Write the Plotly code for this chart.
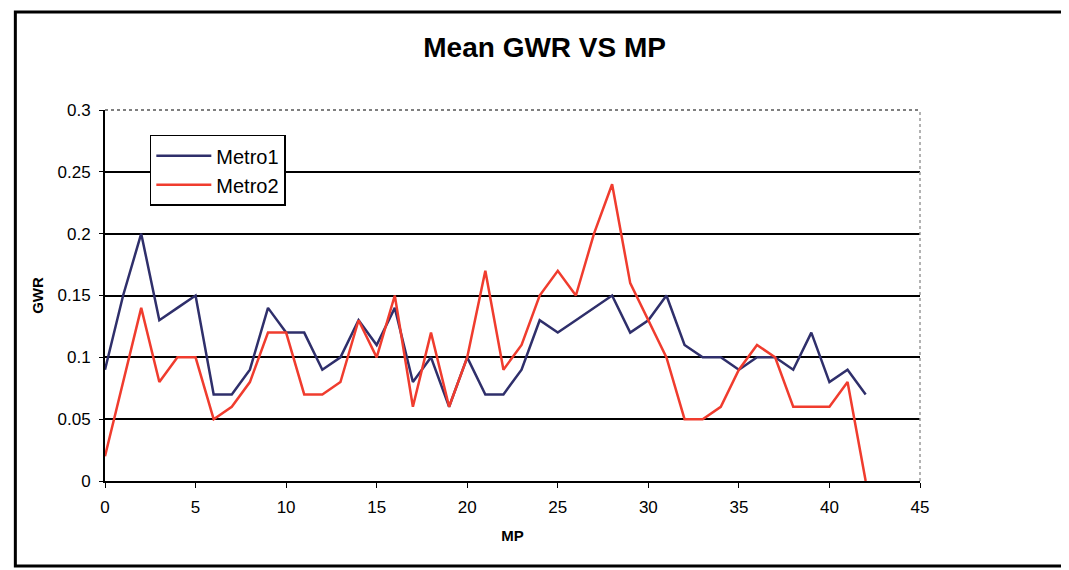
import plotly.graph_objects as go

mp = list(range(43))
metro1 = [0.09, 0.15, 0.20, 0.13, 0.14, 0.15, 0.07, 0.07, 0.09, 0.14,
          0.12, 0.12, 0.09, 0.10, 0.13, 0.11, 0.14, 0.08, 0.10, 0.06,
          0.10, 0.07, 0.07, 0.09, 0.13, 0.12, 0.13, 0.14, 0.15, 0.12,
          0.13, 0.15, 0.11, 0.10, 0.10, 0.09, 0.10, 0.10, 0.09, 0.12,
          0.08, 0.09, 0.07]
metro2 = [0.02, 0.08, 0.14, 0.08, 0.10, 0.10, 0.05, 0.06, 0.08, 0.12,
          0.12, 0.07, 0.07, 0.08, 0.13, 0.10, 0.15, 0.06, 0.12, 0.06,
          0.10, 0.17, 0.09, 0.11, 0.15, 0.17, 0.15, 0.20, 0.24, 0.16,
          0.13, 0.10, 0.05, 0.05, 0.06, 0.09, 0.11, 0.10, 0.06, 0.06,
          0.06, 0.08, 0.00]
x_ticks = [0, 5, 10, 15, 20, 25, 30, 35, 40, 45]
y_ticks = [0, 0.05, 0.1, 0.15, 0.2, 0.25, 0.3]
y_labels = ["0", "0.05", "0.1", "0.15", "0.2", "0.25", "0.3"]

fig = go.Figure()
fig.add_trace(go.Scatter(x=mp, y=metro1, mode="lines", name="Metro1",
                         line=dict(color="#2f2f6b", width=2.5)))
fig.add_trace(go.Scatter(x=mp, y=metro2, mode="lines", name="Metro2",
                         line=dict(color="#f03c2e", width=2.5)))

font = "Liberation Sans, Arial, sans-serif"
fig.update_layout(
    width=1069, height=570,
    margin=dict(l=97, r=157, t=102, b=97),
    paper_bgcolor="white", plot_bgcolor="white",
    font=dict(family=font, color="black", size=17),
    title=dict(text="<b>Mean GWR VS MP</b>", x=0.502, xanchor="center",
               y=0.932, yanchor="middle", font=dict(size=28, family=font)),
    showlegend=True,
    legend=dict(x=0.055, y=0.933, xanchor="left", yanchor="top",
                bgcolor="white", bordercolor="black", borderwidth=1.5,
                font=dict(size=20), itemwidth=55, tracegroupgap=0),
    xaxis=dict(range=[0, 45], tickvals=x_ticks, ticktext=[str(v) for v in x_ticks],
               showgrid=False, zeroline=False, showline=True, linecolor="black",
               linewidth=2, ticks="outside", ticklen=5, tickcolor="black",
               tickfont=dict(size=17), ticklabelstandoff=5,
               title=dict(text="<b>MP</b>", font=dict(size=15), standoff=14)),
    yaxis=dict(range=[0, 0.3], tickvals=y_ticks, ticktext=y_labels,
               showgrid=True, gridcolor="black", gridwidth=1.5, zeroline=False,
               showline=True, linecolor="black", linewidth=2, ticks="outside",
               ticklen=4, tickcolor="black", tickfont=dict(size=17),
               ticklabelstandoff=5,
               title=dict(text="<b>GWR</b>", font=dict(size=15), standoff=10)),
)
# dotted top/right border of plot area
fig.add_shape(type="line", xref="paper", yref="paper", x0=0, x1=1, y0=1, y1=1,
              line=dict(color="#555", width=1.5, dash="dot"))
fig.add_shape(type="line", xref="paper", yref="paper", x0=1, x1=1, y0=0, y1=1,
              line=dict(color="#999", width=1.5, dash="dot"))
# outer frame
fig.add_shape(type="rect", xref="paper", yref="paper", x0=-0.11, x1=1.185,
              y0=-0.229, y1=1.264, line=dict(color="black", width=3))
fig.write_html("out.html")
